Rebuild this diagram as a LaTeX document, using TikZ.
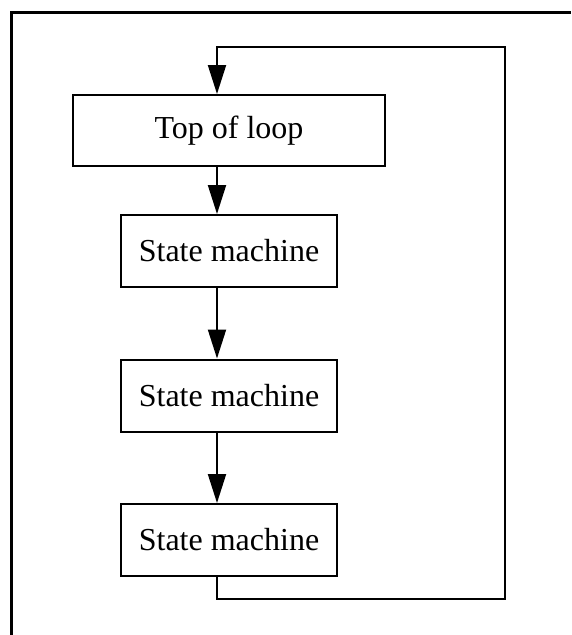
\documentclass[tikz,border=0pt]{standalone}
\usepackage{fontspec}
\setmainfont{Liberation Serif}
\usetikzlibrary{arrows.meta,positioning}
\begin{document}
\begin{tikzpicture}[x=1pt, y=1pt, ->, >={Triangle[length=29pt,width=18pt]}, line width=2pt, node distance = 144.5pt, font=\fontsize{32pt}{38pt}\selectfont]
    \useasboundingbox (0,0) rectangle (571,-635);
    % outer frame
    \draw [-, line width=3pt] (11,-635) -- (11,-12) -- (571,-12);
    \node [rectangle, draw, minimum width=312pt, minimum height=71pt] (top) at (229,-130.5) {Top of loop};
    \node [rectangle, draw, minimum width=216pt, minimum height=72pt] (sma) at (229,-251) {State machine};
    \node [rectangle, draw, minimum width=216pt, minimum height=72pt] (smb) [below of=sma] {State machine};
    \node [rectangle, draw, minimum width=216pt, minimum height=72pt] (smc) [below of=smb] {State machine};
    \coordinate (loopbr) at (505,-599);
    \coordinate (looptr) at (505,-47);
    \path ([xshift=-12pt]top.south) edge ([xshift=-12pt]sma.north);
    \path ([xshift=-12pt]sma.south) edge ([xshift=-12pt]smb.north);
    \path ([xshift=-12pt]smb.south) edge ([xshift=-12pt]smc.north);
    % back to the top
    \draw ([xshift=-12pt]smc.south) |- (loopbr) -- (looptr) -| ([xshift=-12pt]top.north);
\end{tikzpicture}
\end{document}
